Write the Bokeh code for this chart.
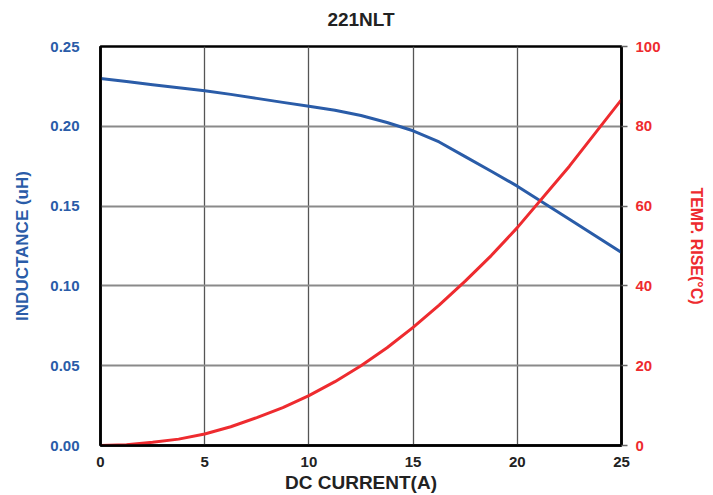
from bokeh.plotting import figure
from bokeh.models import Range1d, LinearAxis, FixedTicker, PrintfTickFormatter
from bokeh.embed import file_html
from bokeh.resources import INLINE

current = [0, 1.25, 2.5, 3.75, 5, 6.25, 7.5, 8.75, 10, 11.25, 12.5, 13.75, 15, 16.25, 17.5, 18.75, 20, 22.5, 25]
inductance = [0.230, 0.228, 0.226, 0.2242, 0.2223, 0.2200, 0.2175, 0.2150, 0.2125, 0.2100, 0.2068, 0.2024, 0.1972, 0.1902, 0.1810, 0.1718, 0.1625, 0.1418, 0.121]
temp_rise = [0, 0.2, 0.8, 1.6, 2.9, 4.7, 7.0, 9.5, 12.5, 16.0, 20.0, 24.5, 29.6, 35.2, 41.2, 47.6, 54.6, 70.0, 86.7]

x_ticks = [0, 5, 10, 15, 20, 25]
l_ticks = [0, 0.05, 0.10, 0.15, 0.20, 0.25]
r_ticks = [0, 20, 40, 60, 80, 100]

BLUE = "#2a5ca8"
RED = "#ee2b2f"
FONT = "Liberation Sans"

p = figure(width=713, height=495, output_backend="svg", toolbar_location=None,
           x_range=Range1d(0, 25), y_range=Range1d(0, 0.25),
           min_border_left=100, min_border_right=92, min_border_top=45, min_border_bottom=50)

p.title.text = "221NLT"
p.title.align = "center"
p.title.vertical_align = "bottom"
p.title.text_font = FONT
p.title.text_font_size = "19px"
p.title.text_font_style = "bold"
p.title.text_color = "#222222"
p.title.standoff = 12
p.title.padding = dict(left=0, right=0, top=0, bottom=11)

p.extra_y_ranges = {"temp": Range1d(0, 100)}

p.outline_line_color = "black"
p.outline_line_width = 2.5
p.background_fill_color = "white"
p.border_fill_color = "white"

# grid
p.xgrid.ticker = FixedTicker(ticks=x_ticks)
p.ygrid.ticker = FixedTicker(ticks=l_ticks)
p.xgrid.grid_line_color = "#555555"
p.xgrid.grid_line_width = 1.3
p.ygrid.grid_line_color = "#8a8a8a"
p.ygrid.grid_line_width = 1.8

# bottom axis
xa = p.xaxis[0]
xa.ticker = FixedTicker(ticks=x_ticks)
xa.axis_label = "DC CURRENT(A)"
xa.axis_label_text_font = FONT
xa.axis_label_text_font_size = "19px"
xa.axis_label_text_font_style = "bold"
xa.axis_label_text_color = "#222222"
xa.axis_label_standoff = 2
xa.major_label_text_font = FONT
xa.major_label_text_font_size = "15px"
xa.major_label_text_font_style = "bold"
xa.major_label_text_color = "#222222"
xa.major_label_standoff = 5
xa.major_tick_line_color = None
xa.minor_tick_line_color = None
xa.axis_line_color = "black"
xa.axis_line_width = 2.5

# left axis
ya = p.yaxis[0]
ya.ticker = FixedTicker(ticks=l_ticks)
ya.formatter = PrintfTickFormatter(format="%.2f")
ya.axis_label = "INDUCTANCE (uH)"
ya.axis_label_text_font = FONT
ya.axis_label_text_font_size = "17px"
ya.axis_label_text_font_style = "bold"
ya.axis_label_text_color = BLUE
ya.axis_label_standoff = 15
ya.major_label_text_font = FONT
ya.major_label_text_font_size = "15px"
ya.major_label_text_font_style = "bold"
ya.major_label_text_color = BLUE
ya.major_label_standoff = 15
ya.major_tick_line_color = None
ya.minor_tick_line_color = None
ya.axis_line_color = "black"
ya.axis_line_width = 2.5

# right axis
ra = LinearAxis(y_range_name="temp", ticker=FixedTicker(ticks=r_ticks))
ra.axis_label = "TEMP. RISE(\u00b0C)"
ra.axis_label_text_font = FONT
ra.axis_label_text_font_size = "16px"
ra.axis_label_text_font_style = "bold"
ra.axis_label_text_color = RED
ra.axis_label_standoff = 24
ra.major_label_text_font = FONT
ra.major_label_text_font_size = "15px"
ra.major_label_text_font_style = "bold"
ra.major_label_text_color = RED
ra.major_label_standoff = 8
ra.major_tick_line_color = "#666666"
ra.major_tick_line_width = 1.5
ra.major_tick_out = 6
ra.major_tick_in = 0
ra.minor_tick_line_color = None
ra.axis_line_color = "black"
ra.axis_line_width = 2.5
p.add_layout(ra, "right")

p.line(current, inductance, line_color=BLUE, line_width=3, line_join="round")
p.line(current, temp_rise, line_color=RED, line_width=3, line_join="round", y_range_name="temp")

open("out.html", "w").write(file_html(p, INLINE))
